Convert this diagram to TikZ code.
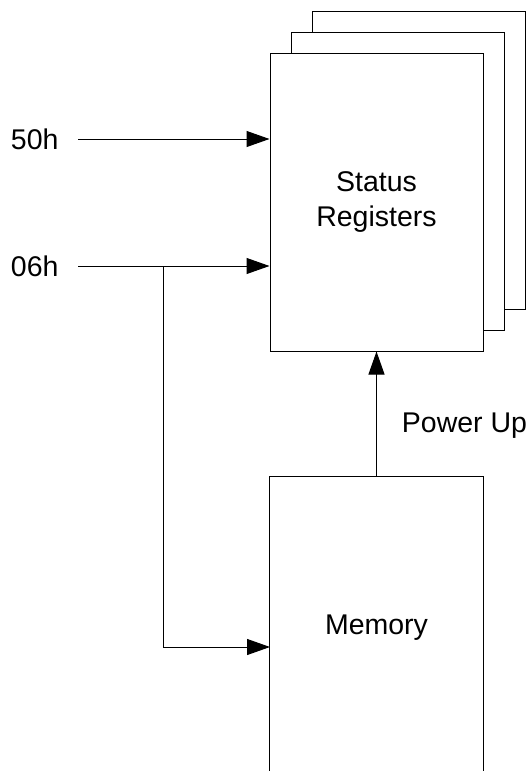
\documentclass[tikz,border=0pt]{standalone}
\usepackage{fontspec}
\setmainfont{Liberation Sans}
\usetikzlibrary{arrows.meta}

\tikzset{
  regbox/.style={draw, fill=white, line width=1pt, minimum width=213pt, minimum height=298pt, inner sep=0pt},
  lbl/.style={inner xsep=19pt, inner ysep=0pt},
}

\begin{document}
\begin{tikzpicture}[x=1pt, y=-1pt, >={Triangle[length=23pt,width=16pt]}, line width=1pt,
                    font=\fontsize{28.5}{35}\selectfont]
	\useasboundingbox (0,0) rectangle (530,771);

	% Stacked register pages
	\node[regbox] (page3) at (419,160) {};
	\node[regbox] (page2) at (397.5,181) {};
	\node[regbox, align=center] (reg) at (376.5,202) {Status\\Registers};

	% Memory (open at the bottom)
	\node[minimum width=213pt, minimum height=302pt, inner sep=0pt] (mem) at (376.5,628) {Memory};
	\draw (mem.south west) |- (mem.north east) -- (mem.south east);

	% Inputs
	\node[lbl, anchor=east] (in50) at (78,139) {50h};
	\node[lbl, anchor=east] (in06) at (78,266) {06h};
	\draw[->] (in50.east) -- (in50.east -| reg.west);
	\draw[->] (in06.east) -- (in06.east -| reg.west);

	% Branch to memory
	\coordinate (split) at (163,266);
	\coordinate (memin) at (270,647);
	\draw[->] (split) |- (memin);

	% Power up
	\draw[->] (mem.north) -- (reg.south);
	\node (pwr) at (464.5,426) {Power Up};
\end{tikzpicture}
\end{document}
